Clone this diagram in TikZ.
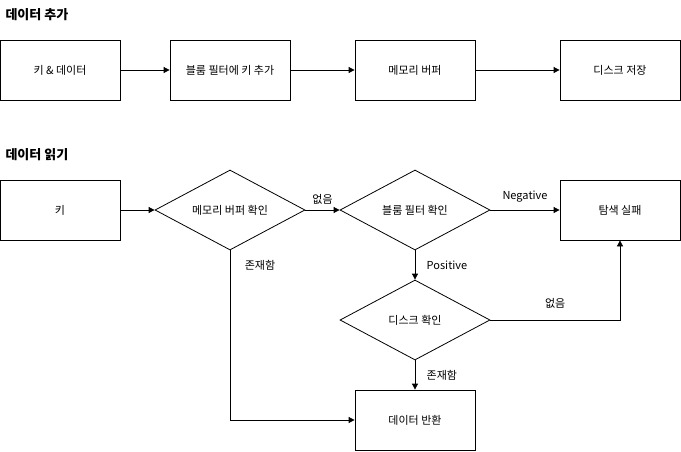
\documentclass[tikz,border=0pt]{standalone}
\usepackage{fontspec}
\setmainfont{Noto Sans CJK KR}
\usetikzlibrary{shapes.geometric,arrows.meta}
\begin{document}
\begin{tikzpicture}[x=1pt,y=-1pt,
  box/.style={draw,line width=0.8pt,minimum width=120pt,minimum height=60pt,font=\fontsize{11}{13}\selectfont},
  dia/.style={draw,line width=0.8pt,diamond,aspect=1.875,minimum width=150pt,minimum height=80pt,inner sep=0pt,font=\fontsize{11}{13}\selectfont},
  arr/.style={-{Triangle[length=6pt,width=6pt]},line width=0.8pt},
  lbl/.style={font=\fontsize{11}{13}\selectfont},
  ttl/.style={font=\fontsize{13}{15}\selectfont\bfseries,anchor=west}]
\useasboundingbox (0,0) rectangle (681,451);
\node[ttl] (t1) at (2,15) {데이터 추가};
\node[box] (a1) at (60,70) {키 \& 데이터};
\node[box] (a2) at (230,70) {블룸 필터에 키 추가};
\node[box] (a3) at (415,70) {메모리 버퍼};
\node[box] (a4) at (620,70) {디스크 저장};
\draw[arr] (a1) -- (a2);
\draw[arr] (a2) -- (a3);
\draw[arr] (a3) -- (a4);
\node[ttl] (t2) at (2,155) {데이터 읽기};
\node[box] (k) at (60,210) {키};
\node[dia] (d1) at (230,210) {메모리 버퍼 확인};
\node[dia] (d2) at (415,210) {블룸 필터 확인};
\node[box] (f) at (620,210) {탐색 실패};
\node[dia] (d3) at (415,320) {디스크 확인};
\node[box] (r) at (415,420) {데이터 반환};
\draw[arr] (k) -- (d1.west);
\draw[arr] (d1.east) -- node[lbl,above=2pt]{없음} (d2.west);
\draw[arr] (d2.east) -- node[lbl,above=4pt]{Negative} (f.west);
\draw[arr] (d2.south) -- node[lbl,right=8pt]{Positive} (d3.north);
\draw[arr] (d3.east) -- node[lbl,above=8pt]{없음} (620,320) -- (f.south);
\draw[arr] (d1.south) -- (230,420) -- (r.west);
\node[lbl] (l1) at (260,265) {존재함};
\draw[arr] (d3.south) -- node[lbl,right=8pt]{존재함} (r.north);
\end{tikzpicture}
\end{document}
